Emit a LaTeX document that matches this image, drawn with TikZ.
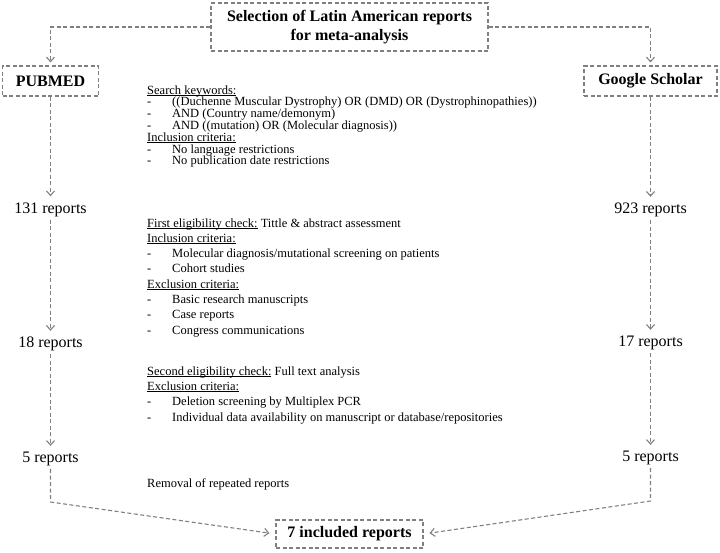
\documentclass[tikz,border=0pt]{standalone}
\usepackage{fontspec}
\setmainfont{Liberation Serif}
\usetikzlibrary{arrows.meta}
\definecolor{dgray}{RGB}{128,128,128}
\newcommand\itemline[1]{\makebox[25pt][l]{-}#1}
\newcommand\myul[1]{{\setbox0\hbox{#1}\rlap{\rule[-1.6pt]{\wd0}{0.6pt}}\box0}}
\begin{document}
\begin{tikzpicture}[x=1pt,y=-1pt,
  box/.style={draw=dgray, line width=1.1pt, dash pattern=on 4pt off 2.5pt, fill=white, inner sep=0pt, font=\bfseries\fontsize{16}{19}\selectfont, align=center},
  conn/.style={draw=dgray, line width=1.1pt, dash pattern=on 4pt off 2.5pt, -{Straight Barb[length=4.5pt,width=8pt]}, shorten >=3pt},
  num/.style={inner sep=3pt, font=\fontsize{16}{19}\selectfont},
  txt/.style={anchor=base west, inner sep=0pt, font=\fontsize{12.5}{15}\selectfont}]
\useasboundingbox (0,0) rectangle (720,552);
% boxes
\node[box, minimum width=277pt, minimum height=48pt] (top) at (349.5,27) {Selection of Latin American reports\\for meta-analysis};
\node[box, minimum width=96pt, minimum height=30pt] (pub) at (50.5,81) {PUBMED};
\node[box, minimum width=133pt, minimum height=30pt] (gs) at (650.5,81) {Google Scholar};
\node[box, minimum width=147pt, minimum height=28pt] (inc) at (349.5,534) {7 included reports};
% counts
\node[num] (l131) at (50.5,209.5) {131 reports};
\node[num] (l18) at (50.5,344) {18 reports};
\node[num] (l5) at (50.5,459) {5 reports};
\node[num] (r923) at (650.5,210) {923 reports};
\node[num] (r17) at (650.5,343) {17 reports};
\node[num] (r5) at (650.5,458) {5 reports};
\coordinate (cl) at (50.5,502);
\coordinate (cr) at (650.5,501);
% connectors
\draw[conn] (top.west) -| (pub.north);
\draw[conn] (top.east) -| (gs.north);
\draw[conn] (pub.south) -- (l131.north);
\draw[conn] (l131.south) -- (l18.north);
\draw[conn] (l18.south) -- (l5.north);
\draw[conn] (gs.south) -- (r923.north);
\draw[conn] (r923.south) -- (r17.north);
\draw[conn] (r17.south) -- (r5.north);
\draw[conn, shorten >=6pt] (l5.south) -- (cl) -- (inc.west);
\draw[conn, shorten >=6pt] (r5.south) -- (cr) -- (inc.east);
% block 1
\node[txt] (a1) at (147,94) {\myul{Search keywords:}};
\node[txt] (a2) at (147,105.8) {\itemline{((Duchenne Muscular Dystrophy) OR (DMD) OR (Dystrophinopathies))}};
\node[txt] (a3) at (147,117.6) {\itemline{AND (Country name/demonym)}};
\node[txt] (a4) at (147,129.4) {\itemline{AND ((mutation) OR (Molecular diagnosis))}};
\node[txt] (a5) at (147,141.2) {\myul{Inclusion criteria:}};
\node[txt] (a6) at (147,153) {\itemline{No language restrictions}};
\node[txt] (a7) at (147,164.8) {\itemline{No publication date restrictions}};
% block 2
\node[txt] (b1) at (147,227) {\myul{First eligibility check:} Tittle \& abstract assessment};
\node[txt] (b2) at (147,242.3) {\myul{Inclusion criteria:}};
\node[txt] (b3) at (147,257.6) {\itemline{Molecular diagnosis/mutational screening on patients}};
\node[txt] (b4) at (147,272.9) {\itemline{Cohort studies}};
\node[txt] (b5) at (147,288.2) {\myul{Exclusion criteria:}};
\node[txt] (b6) at (147,303.5) {\itemline{Basic research manuscripts}};
\node[txt] (b7) at (147,318.8) {\itemline{Case reports}};
\node[txt] (b8) at (147,334.1) {\itemline{Congress communications}};
% block 3
\node[txt] (c1) at (147,375) {\myul{Second eligibility check:} Full text analysis};
\node[txt] (c2) at (147,390.4) {\myul{Exclusion criteria:}};
\node[txt] (c3) at (147,405.8) {\itemline{Deletion screening by Multiplex PCR}};
\node[txt] (c4) at (147,421.2) {\itemline{Individual data availability on manuscript or database/repositories}};
\node[txt] (d1) at (147,487) {Removal of repeated reports};
\end{tikzpicture}
\end{document}
